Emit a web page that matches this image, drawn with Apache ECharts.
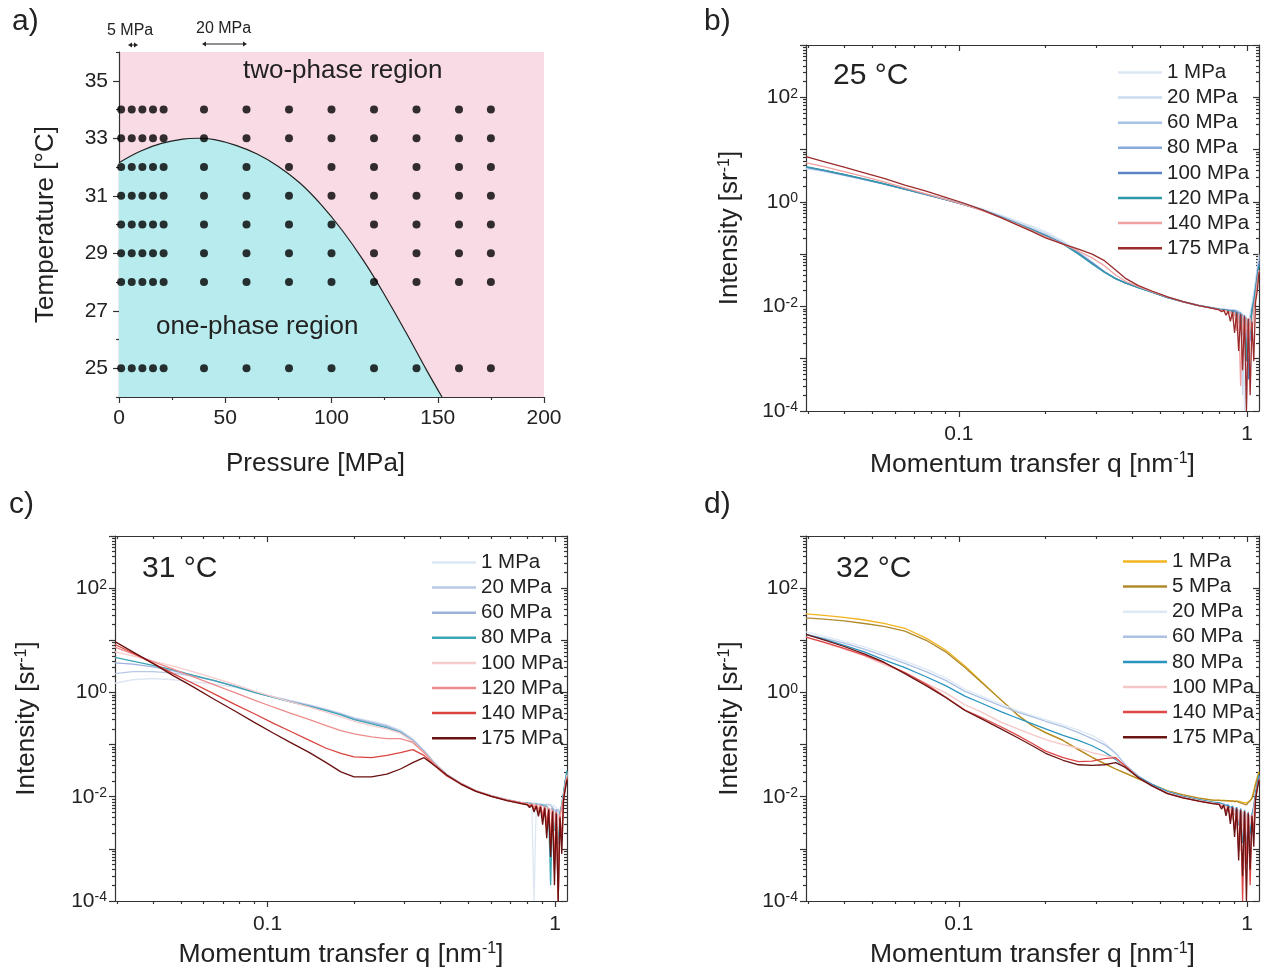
<!DOCTYPE html>
<html>
<head>
<meta charset="utf-8">
<script src="https://cdn.jsdelivr.net/npm/echarts@6/dist/echarts.min.js"></script>
<style>
  html, body { margin: 0; padding: 0; background: #fff; }
  #main { width: 1266px; height: 976px; }
</style>
</head>
<body>
<div id="main"></div>
<script>
// ---- panel a: phase diagram ----
var pressureCols = [1, 6, 11, 16, 21, 40, 60, 80, 100, 120, 140, 160, 175];
var temperatureRows = [25, 28, 29, 30, 31, 32, 33, 34];
var boundaryP = [0, 10, 20, 30, 37, 45, 55, 65, 75, 85, 95, 105, 115, 125, 135, 145, 152];
var boundaryT = [32.15, 32.55, 32.82, 32.97, 33.0, 32.95, 32.75, 32.45, 32.02, 31.45, 30.7, 29.8, 28.75, 27.55, 26.25, 24.9, 24.0];
var tempLabels = [25, 27, 29, 31, 33, 35];
var tempMinor = [24, 26, 28, 30, 32, 34, 36];

// ---- SAXS curves: q grid (nm^-1) ----
var qMain = [0.0295, 0.034, 0.04, 0.047, 0.055, 0.065, 0.077, 0.09, 0.105, 0.12, 0.14, 0.16, 0.18, 0.2, 0.23, 0.26, 0.29, 0.32, 0.35, 0.38, 0.42, 0.47, 0.53, 0.6, 0.68, 0.76];
var qTail = [0.8, 0.815, 0.83, 0.845, 0.86, 0.875, 0.89, 0.905, 0.92, 0.935, 0.95, 0.965, 0.98, 0.995, 1.01, 1.025, 1.04, 1.055, 1.07, 1.085, 1.1];
var qMajorTicks = [0.1, 1];
var qMinorTicks = [0.03, 0.04, 0.05, 0.06, 0.07, 0.08, 0.09, 0.2, 0.3, 0.4, 0.5, 0.6, 0.7, 0.8, 0.9];
var intensityDecades = [1e-4, 1e-3, 1e-2, 1e-1, 1, 10, 100, 1000];
var intensityLabels = [1e-4, 1e-2, 1, 100];

// 25 °C
var t25_p1   = [4.3, 3.8, 3.2, 2.65, 2.2, 1.78, 1.42, 1.14, 0.92, 0.75, 0.56, 0.43, 0.34, 0.27, 0.18, 0.115, 0.072, 0.047, 0.034, 0.028, 0.023, 0.019, 0.0152, 0.0125, 0.0107, 0.0096,
                0.0092, 0.009, 0.0088, 0.0089, 0.0087, 0.0086, 0.0085, 0.0086, 0.0084, 0.0082, 0.0075, 0.0062, 0.0001, 0.0045, 0.0012, 0.0064, 0.0098, 0.016, 0.028, 0.05, 0.09];
var t25_p20  = [4.4, 3.85, 3.2, 2.65, 2.2, 1.77, 1.4, 1.12, 0.9, 0.73, 0.54, 0.41, 0.32, 0.25, 0.17, 0.11, 0.07, 0.046, 0.034, 0.028, 0.023, 0.0188, 0.015, 0.0124, 0.0106, 0.0095,
                0.0091, 0.0089, 0.009, 0.0087, 0.0086, 0.0087, 0.0085, 0.0083, 0.0084, 0.0079, 0.0068, 0.0002, 0.005, 0.0001, 0.0035, 0.0071, 0.011, 0.018, 0.03, 0.055, 0.1];
var t25_p60  = [4.5, 3.9, 3.25, 2.65, 2.18, 1.74, 1.38, 1.1, 0.88, 0.71, 0.52, 0.39, 0.3, 0.235, 0.16, 0.105, 0.067, 0.045, 0.034, 0.028, 0.023, 0.0186, 0.0149, 0.0123, 0.0105, 0.0094,
                0.009, 0.0088, 0.0086, 0.0088, 0.0085, 0.0084, 0.0086, 0.0082, 0.0072, 0.008, 0.0055, 0.0064, 0.0018, 0.0058, 0.0007, 0.0048, 0.0095, 0.014, 0.024, 0.045, 0.08];
var t25_p80  = [4.6, 4.0, 3.3, 2.7, 2.2, 1.75, 1.38, 1.1, 0.88, 0.7, 0.51, 0.38, 0.29, 0.23, 0.16, 0.104, 0.066, 0.045, 0.034, 0.028, 0.023, 0.0185, 0.0148, 0.0122, 0.0104, 0.0093,
                0.0089, 0.0087, 0.0088, 0.0085, 0.0084, 0.0083, 0.0081, 0.0078, 0.0083, 0.0065, 0.0078, 0.0042, 0.0069, 0.0015, 0.0052, 0.0022, 0.0088, 0.013, 0.022, 0.04, 0.07];
var t25_p100 = [4.6, 4.0, 3.3, 2.7, 2.2, 1.75, 1.38, 1.1, 0.88, 0.7, 0.51, 0.38, 0.29, 0.23, 0.16, 0.105, 0.068, 0.046, 0.034, 0.028, 0.023, 0.0185, 0.0148, 0.0122, 0.0104, 0.0093,
                0.0088, 0.0086, 0.0085, 0.0087, 0.0083, 0.0082, 0.0079, 0.0084, 0.0061, 0.0077, 0.0035, 0.0071, 0.0026, 0.0061, 0.0004, 0.0055, 0.0079, 0.012, 0.02, 0.038, 0.065];
var t25_p120 = [4.7, 4.05, 3.35, 2.75, 2.22, 1.76, 1.39, 1.1, 0.88, 0.7, 0.51, 0.38, 0.29, 0.225, 0.155, 0.1, 0.065, 0.045, 0.034, 0.028, 0.023, 0.0185, 0.0148, 0.0122, 0.0104, 0.0093,
                0.0088, 0.0085, 0.0086, 0.0083, 0.0084, 0.008, 0.0083, 0.0068, 0.0079, 0.0049, 0.0074, 0.0028, 0.0066, 0.0009, 0.0058, 0.0031, 0.0086, 0.012, 0.021, 0.036, 0.06];
var t25_p140 = [5.6, 4.7, 3.8, 3.05, 2.4, 1.85, 1.42, 1.12, 0.88, 0.69, 0.5, 0.37, 0.28, 0.215, 0.155, 0.115, 0.085, 0.06, 0.04, 0.03, 0.024, 0.019, 0.015, 0.0122, 0.0104, 0.0092,
                0.0087, 0.0084, 0.0081, 0.0085, 0.0072, 0.0082, 0.0058, 0.0079, 0.0034, 0.0075, 0.0003, 0.0068, 0.0021, 0.0059, 0.0011, 0.0062, 0.0026, 0.0094, 0.015, 0.03, 0.05];
var t25_p175 = [7.3, 5.9, 4.6, 3.6, 2.8, 2.1, 1.6, 1.22, 0.93, 0.71, 0.5, 0.36, 0.27, 0.205, 0.155, 0.125, 0.1, 0.075, 0.05, 0.034, 0.025, 0.0195, 0.0152, 0.0123, 0.0104, 0.0092,
                0.0086, 0.0079, 0.0085, 0.0068, 0.0081, 0.0052, 0.0079, 0.0031, 0.0076, 0.0014, 0.0071, 0.0006, 0.0065, 0.0001, 0.0058, 0.0002, 0.0051, 0.0009, 0.012, 0.02, 0.045];

// 31 °C
var t31_p1   = [1.5, 1.75, 1.85, 1.75, 1.6, 1.45, 1.25, 1.02, 0.83, 0.7, 0.58, 0.48, 0.4, 0.33, 0.28, 0.24, 0.19, 0.13, 0.078, 0.046, 0.027, 0.0185, 0.0132, 0.0106, 0.0089, 0.0079,
                0.0076, 0.0075, 0.0074, 0.0001, 0.0073, 0.0074, 0.0072, 0.0073, 0.0071, 0.0072, 0.007, 0.0071, 0.0068, 0.0066, 0.0062, 0.0055, 0.0048, 0.0065, 0.011, 0.019, 0.028];
var t31_p20  = [2.3, 2.5, 2.5, 2.35, 2.05, 1.7, 1.32, 1.02, 0.82, 0.69, 0.57, 0.47, 0.39, 0.32, 0.27, 0.23, 0.18, 0.125, 0.076, 0.045, 0.027, 0.018, 0.013, 0.0105, 0.0088, 0.0078,
                0.0077, 0.0076, 0.0074, 0.0075, 0.0073, 0.0071, 0.0072, 0.007, 0.0069, 0.0071, 0.0066, 0.0068, 0.0061, 0.0065, 0.0052, 0.0058, 0.0045, 0.007, 0.012, 0.02, 0.03];
var t31_p60  = [3.7, 3.5, 3.1, 2.6, 2.1, 1.68, 1.3, 1.0, 0.8, 0.67, 0.55, 0.46, 0.38, 0.31, 0.26, 0.22, 0.175, 0.12, 0.074, 0.044, 0.026, 0.018, 0.013, 0.0104, 0.0087, 0.0077,
                0.0076, 0.0074, 0.0075, 0.0072, 0.0073, 0.007, 0.0071, 0.0068, 0.0069, 0.0064, 0.0067, 0.0055, 0.0063, 0.0041, 0.0058, 0.0034, 0.0052, 0.0068, 0.011, 0.018, 0.027];
var t31_p80  = [4.7, 4.0, 3.3, 2.7, 2.15, 1.7, 1.3, 1.0, 0.8, 0.66, 0.54, 0.45, 0.37, 0.3, 0.25, 0.21, 0.17, 0.115, 0.072, 0.043, 0.026, 0.018, 0.013, 0.0104, 0.0087, 0.0077,
                0.0075, 0.0073, 0.0074, 0.0071, 0.0072, 0.0069, 0.0067, 0.007, 0.0062, 0.0066, 0.0045, 0.0002, 0.0058, 0.0022, 0.0052, 0.0012, 0.0047, 0.0072, 0.012, 0.021, 0.032];
var t31_p100 = [6.0, 5.0, 4.0, 3.2, 2.5, 1.9, 1.42, 1.06, 0.82, 0.66, 0.52, 0.42, 0.34, 0.28, 0.23, 0.2, 0.165, 0.115, 0.072, 0.043, 0.026, 0.018, 0.013, 0.0104, 0.0087, 0.0077,
                0.0074, 0.0072, 0.0071, 0.0073, 0.0068, 0.007, 0.0063, 0.0067, 0.0055, 0.0064, 0.0038, 0.0059, 0.0026, 0.0054, 0.0009, 0.0048, 0.0031, 0.0066, 0.01, 0.017, 0.026];
var t31_p120 = [7.4, 5.5, 3.9, 2.8, 2.0, 1.41, 0.99, 0.71, 0.52, 0.4, 0.3, 0.23, 0.185, 0.16, 0.14, 0.13, 0.13, 0.11, 0.07, 0.043, 0.026, 0.018, 0.013, 0.0104, 0.0087, 0.0077,
                0.0073, 0.0069, 0.0072, 0.0064, 0.007, 0.0058, 0.0068, 0.0046, 0.0065, 0.0033, 0.0061, 0.0018, 0.0057, 0.0006, 0.0051, 0.0003, 0.0044, 0.0061, 0.0095, 0.016, 0.024];
var t31_p140 = [8.3, 5.7, 3.6, 2.3, 1.5, 0.95, 0.59, 0.39, 0.255, 0.18, 0.12, 0.085, 0.068, 0.058, 0.056, 0.062, 0.07, 0.08, 0.062, 0.04, 0.025, 0.0175, 0.0128, 0.0102, 0.0085, 0.0075,
                0.0071, 0.0066, 0.007, 0.0057, 0.0068, 0.0049, 0.0065, 0.0038, 0.0062, 0.0025, 0.0058, 0.0011, 0.0054, 0.0004, 0.0049, 0.0001, 0.0042, 0.0015, 0.009, 0.015, 0.022];
var t31_p175 = [9.4, 6.0, 3.6, 2.1, 1.29, 0.75, 0.44, 0.267, 0.165, 0.11, 0.07, 0.045, 0.03, 0.024, 0.024, 0.027, 0.034, 0.045, 0.056, 0.04, 0.026, 0.0175, 0.0127, 0.0101, 0.0084, 0.0074,
                0.007, 0.0062, 0.0069, 0.0051, 0.0066, 0.0042, 0.0063, 0.0029, 0.006, 0.0016, 0.0056, 0.0007, 0.0052, 0.0002, 0.0047, 0.0001, 0.004, 0.0008, 0.0085, 0.014, 0.021];

// 32 °C
var t32_p1   = [32, 30, 27.5, 24.5, 21, 17, 11, 6.5, 3.2, 1.6, 0.72, 0.37, 0.23, 0.17, 0.12, 0.08, 0.057, 0.043, 0.034, 0.028, 0.022, 0.017, 0.013, 0.0108, 0.0094, 0.0086,
                0.0086, 0.0085, 0.0084, 0.0085, 0.0083, 0.0084, 0.0082, 0.0083, 0.0081, 0.0082, 0.008, 0.0078, 0.0081, 0.0076, 0.0079, 0.0083, 0.0098, 0.013, 0.018, 0.024, 0.03];
var t32_p5   = [27, 25.5, 23.5, 21, 18.5, 15, 10, 6.0, 3.0, 1.55, 0.72, 0.37, 0.23, 0.17, 0.12, 0.08, 0.057, 0.043, 0.034, 0.028, 0.022, 0.017, 0.013, 0.0108, 0.0094, 0.0086,
                0.0085, 0.0084, 0.0085, 0.0083, 0.0084, 0.0082, 0.0083, 0.008, 0.0082, 0.0079, 0.0081, 0.0074, 0.0079, 0.007, 0.0077, 0.0079, 0.0092, 0.012, 0.017, 0.022, 0.028];
var t32_p20  = [14.5, 12, 9.5, 7.5, 5.6, 4.0, 2.8, 1.9, 1.15, 0.85, 0.6, 0.45, 0.36, 0.3, 0.24, 0.19, 0.15, 0.11, 0.07, 0.04, 0.025, 0.017, 0.0125, 0.0102, 0.0088, 0.0079,
                0.0077, 0.0074, 0.0071, 0.0069, 0.0055, 0.0065, 0.0042, 0.006, 0.0032, 0.0057, 0.0021, 0.0052, 0.0014, 0.0049, 0.0008, 0.0045, 0.0038, 0.0063, 0.01, 0.016, 0.024];
var t32_p60  = [13, 11, 8.8, 6.8, 5.0, 3.6, 2.5, 1.7, 1.05, 0.78, 0.55, 0.42, 0.34, 0.28, 0.22, 0.17, 0.13, 0.1, 0.068, 0.04, 0.025, 0.017, 0.0125, 0.0102, 0.0088, 0.0079,
                0.0077, 0.0075, 0.0072, 0.007, 0.0068, 0.0063, 0.0066, 0.0052, 0.0063, 0.0038, 0.006, 0.0025, 0.0056, 0.0011, 0.0052, 0.0005, 0.0047, 0.0064, 0.011, 0.017, 0.025];
var t32_p80  = [13, 10.5, 8.0, 6.0, 4.2, 3.0, 2.0, 1.35, 0.85, 0.62, 0.43, 0.32, 0.25, 0.2, 0.15, 0.12, 0.095, 0.072, 0.052, 0.035, 0.024, 0.017, 0.0125, 0.0102, 0.0088, 0.0079,
                0.0076, 0.0073, 0.0072, 0.0067, 0.007, 0.0058, 0.0066, 0.0045, 0.0063, 0.0028, 0.0059, 0.0013, 0.0055, 0.0006, 0.005, 0.0019, 0.0045, 0.0067, 0.012, 0.018, 0.026];
var t32_p100 = [11.5, 9.0, 6.8, 5.0, 3.4, 2.4, 1.5, 0.98, 0.58, 0.42, 0.27, 0.2, 0.155, 0.125, 0.1, 0.085, 0.07, 0.062, 0.056, 0.035, 0.023, 0.016, 0.012, 0.0098, 0.0085, 0.0076,
                0.0073, 0.007, 0.0067, 0.0065, 0.0052, 0.0062, 0.0036, 0.0059, 0.0024, 0.0055, 0.0009, 0.0051, 0.0004, 0.0047, 0.0016, 0.0043, 0.0027, 0.006, 0.0095, 0.015, 0.022];
var t32_p140 = [11.5, 9.2, 7.0, 5.2, 3.7, 2.4, 1.45, 0.82, 0.46, 0.33, 0.22, 0.15, 0.105, 0.075, 0.056, 0.047, 0.048, 0.054, 0.056, 0.038, 0.023, 0.016, 0.0115, 0.0095, 0.0082, 0.0074,
                0.0072, 0.0064, 0.0069, 0.0051, 0.0066, 0.0038, 0.0063, 0.0022, 0.006, 0.0009, 0.0056, 0.0001, 0.0053, 0.0005, 0.0049, 0.0002, 0.0044, 0.0021, 0.0092, 0.015, 0.022];
var t32_p175 = [13, 10.2, 7.6, 5.5, 3.8, 2.3, 1.35, 0.8, 0.45, 0.31, 0.2, 0.135, 0.095, 0.068, 0.05, 0.041, 0.04, 0.041, 0.045, 0.036, 0.023, 0.016, 0.0115, 0.0095, 0.0082, 0.0074,
                0.0071, 0.0058, 0.0068, 0.0043, 0.0065, 0.003, 0.0062, 0.0017, 0.0059, 0.0006, 0.0055, 0.0003, 0.0052, 0.0001, 0.0047, 0.0004, 0.0042, 0.0011, 0.0088, 0.014, 0.021];

var panelB = { names: ['1 MPa', '20 MPa', '60 MPa', '80 MPa', '100 MPa', '120 MPa', '140 MPa', '175 MPa'],
  values: [t25_p1, t25_p20, t25_p60, t25_p80, t25_p100, t25_p120, t25_p140, t25_p175],
  colors: ['#dbe7f4', '#c9dbef', '#a6c2e6', '#86aadb', '#5a84c3', '#2f98a8', '#efa0a0', '#9c2c2c'] };
var panelC = { names: ['1 MPa', '20 MPa', '60 MPa', '80 MPa', '100 MPa', '120 MPa', '140 MPa', '175 MPa'],
  values: [t31_p1, t31_p20, t31_p60, t31_p80, t31_p100, t31_p120, t31_p140, t31_p175],
  colors: ['#dde7f3', '#b7c9e4', '#9db1da', '#3ca5b4', '#f7cccc', '#ee8c8c', '#d9443f', '#6a1010'] };
var panelD = { names: ['1 MPa', '5 MPa', '20 MPa', '60 MPa', '80 MPa', '100 MPa', '140 MPa', '175 MPa'],
  values: [t32_p1, t32_p5, t32_p20, t32_p60, t32_p80, t32_p100, t32_p140, t32_p175],
  colors: ['#f2b420', '#b18a2e', '#dde9f5', '#abc0e2', '#2a95be', '#f5c6c6', '#e04646', '#6b1414'] };

var FONT = '"Liberation Sans", Arial, sans-serif';
var INK = '#222';
var qAll = qMain.concat(qTail);

function pairs(xs, ys) {
  return xs.map(function (x, i) { return [x, ys[i]]; });
}

var chart = echarts.init(document.getElementById('main'));

var grids = [
  { left: 119, top: 52, width: 425, height: 345, show: true, backgroundColor: '#f8dbe4', borderWidth: 0 },
  { left: 806, top: 45, width: 453, height: 366 },
  { left: 115, top: 536, width: 452, height: 365 },
  { left: 806, top: 536, width: 453, height: 365 }
];

var lineStyleAxis = { color: '#333', width: 1.2 };
var xAxes = [];
var yAxes = [];

// panel a axes
xAxes.push({
  gridIndex: 0, type: 'value', min: 0, max: 200, interval: 50,
  axisLine: { onZero: false, lineStyle: lineStyleAxis },
  axisTick: { length: 6, lineStyle: lineStyleAxis },
  minorTick: { show: true, splitNumber: 2, length: 3, lineStyle: lineStyleAxis },
  splitLine: { show: false },
  axisLabel: { fontSize: 21, color: INK, fontFamily: FONT, margin: 11 },
  name: 'Pressure [MPa]', nameLocation: 'middle', nameGap: 54,
  nameTextStyle: { fontSize: 26, color: INK, fontFamily: FONT, padding: [0, 32, 0, 0] }
});
yAxes.push({
  gridIndex: 0, type: 'value', min: 24, max: 36,
  axisLine: { onZero: false, lineStyle: lineStyleAxis },
  axisTick: { length: 6, customValues: tempLabels, lineStyle: lineStyleAxis },
  splitLine: { show: false },
  axisLabel: { customValues: tempLabels, fontSize: 21, color: INK, fontFamily: FONT, margin: 11 },
  name: 'Temperature [°C]', nameLocation: 'middle', nameGap: 60,
  nameTextStyle: { fontSize: 26, color: INK, fontFamily: FONT }
});
yAxes.push({
  gridIndex: 0, type: 'value', min: 24, max: 36, position: 'left',
  axisLine: { show: false },
  axisTick: { length: 3, customValues: tempMinor, lineStyle: lineStyleAxis },
  axisLabel: { show: false }, splitLine: { show: false }
});

// log panels: main + minor ticks on bottom/left, inward ticks on top/right
function addLogAxes(g, yNameGap) {
  var xBase = { gridIndex: g, type: 'log', logBase: 10, min: 0.0295, max: 1.1, splitLine: { show: false } };
  var yBase = { gridIndex: g, type: 'log', logBase: 10, min: 1e-4, max: 1e3, splitLine: { show: false } };
  var yMinor = [];
  intensityDecades.slice(0, -1).forEach(function (d) {
    for (var k = 2; k <= 9; k++) yMinor.push(d * k);
  });
  xAxes.push(Object.assign({}, xBase, {
    position: 'bottom',
    axisLine: { onZero: false, lineStyle: lineStyleAxis },
    axisTick: { length: 6, customValues: qMajorTicks, lineStyle: lineStyleAxis },
    axisLabel: { customValues: qMajorTicks, fontSize: 21, color: INK, fontFamily: FONT, margin: 13,
      formatter: function (v) { return v < 0.5 ? '0.1' : '1'; } },
    name: 'Momentum transfer q [nm{s|-1}]', nameLocation: 'middle', nameGap: 40,
    nameTextStyle: { fontSize: 26.5, color: INK, fontFamily: FONT,
      rich: { s: { fontSize: 16, verticalAlign: 'top', fontFamily: FONT, color: INK } } }
  }));
  xAxes.push(Object.assign({}, xBase, {
    position: 'bottom', axisLine: { show: false }, axisLabel: { show: false },
    axisTick: { length: 3, customValues: qMinorTicks, lineStyle: lineStyleAxis }
  }));
  xAxes.push(Object.assign({}, xBase, {
    position: 'top', axisLine: { onZero: false, lineStyle: lineStyleAxis }, axisLabel: { show: false },
    axisTick: { inside: true, length: 6, customValues: qMajorTicks, lineStyle: lineStyleAxis }
  }));
  xAxes.push(Object.assign({}, xBase, {
    position: 'top', axisLine: { show: false }, axisLabel: { show: false },
    axisTick: { inside: true, length: 3, customValues: qMinorTicks, lineStyle: lineStyleAxis }
  }));

  yAxes.push(Object.assign({}, yBase, {
    position: 'left',
    axisLine: { onZero: false, lineStyle: lineStyleAxis },
    axisTick: { length: 6, customValues: intensityDecades, lineStyle: lineStyleAxis },
    axisLabel: { customValues: intensityLabels, margin: 8,
      formatter: function (v) { return '{b|10}{s|' + Math.round(Math.log10(v)) + '}'; },
      rich: { b: { fontSize: 21, color: INK, fontFamily: FONT },
              s: { fontSize: 14, color: INK, fontFamily: FONT, verticalAlign: 'top' } } },
    name: 'Intensity [sr{s|-1}]', nameLocation: 'middle', nameGap: yNameGap,
    nameTextStyle: { fontSize: 26, color: INK, fontFamily: FONT,
      rich: { s: { fontSize: 16, verticalAlign: 'top', fontFamily: FONT, color: INK } } }
  }));
  yAxes.push(Object.assign({}, yBase, {
    position: 'left', axisLine: { show: false }, axisLabel: { show: false },
    axisTick: { length: 3, customValues: yMinor, lineStyle: lineStyleAxis }
  }));
  yAxes.push(Object.assign({}, yBase, {
    position: 'right', axisLine: { onZero: false, lineStyle: lineStyleAxis }, axisLabel: { show: false },
    axisTick: { inside: true, length: 6, customValues: intensityDecades, lineStyle: lineStyleAxis }
  }));
  yAxes.push(Object.assign({}, yBase, {
    position: 'right', axisLine: { show: false }, axisLabel: { show: false },
    axisTick: { inside: true, length: 3, customValues: yMinor, lineStyle: lineStyleAxis }
  }));
}
addLogAxes(1, 63);
addLogAxes(2, 75);
addLogAxes(3, 63);

var series = [];

// phase boundary with one-phase fill
series.push({
  type: 'line', xAxisIndex: 0, yAxisIndex: 0, smooth: 0.4, symbol: 'none', z: 2,
  data: pairs(boundaryP, boundaryT),
  lineStyle: { color: '#222', width: 1.2 },
  areaStyle: { color: '#b8ebee', opacity: 1, origin: 'start' }
});
var points = [];
temperatureRows.forEach(function (t) {
  pressureCols.forEach(function (p) { points.push([p, t]); });
});
series.push({
  type: 'scatter', xAxisIndex: 0, yAxisIndex: 0, z: 5, symbolSize: 8,
  itemStyle: { color: '#000' }, data: points
});

var legends = [];
function addPanelSeries(panel, key, g, legendPos) {
  var xi = 1 + (g - 1) * 4;
  var yi = 2 + (g - 1) * 4;
  var names = [];
  panel.names.forEach(function (n, i) {
    var sName = key + '|' + n;
    names.push(sName);
    series.push({
      name: sName, type: 'line', xAxisIndex: xi, yAxisIndex: yi,
      symbol: 'none', showSymbol: false, smooth: false, z: 3 + i * 0.01,
      data: pairs(qAll, panel.values[i]),
      lineStyle: { color: panel.colors[i], width: 1.3 },
      itemStyle: { color: panel.colors[i] }
    });
  });
  legends.push({
    data: names.map(function (n) { return { name: n, icon: 'rect' }; }),
    orient: 'vertical', left: legendPos[0], top: legendPos[1],
    itemWidth: 44, itemHeight: 2.5, itemGap: 4.1, selectedMode: false,
    formatter: function (name) { return name.split('|')[1]; },
    textStyle: { fontSize: 20.5, color: INK, fontFamily: FONT, lineHeight: 20 }
  });
}
addPanelSeries(panelB, 'b', 1, [1113, 57]);
addPanelSeries(panelC, 'c', 2, [427, 547]);
addPanelSeries(panelD, 'd', 3, [1118, 546]);

function label(text, x, y, size) {
  return { type: 'text', left: x, top: y, z: 100,
    style: { text: text, fontSize: size, fontFamily: FONT, fill: INK } };
}
function doubleArrow(x1, x2, y) {
  return { type: 'group', z: 100, children: [
    { type: 'line', shape: { x1: x1 + 2, y1: y, x2: x2 - 2, y2: y }, style: { stroke: INK, lineWidth: 1 } },
    { type: 'polygon', shape: { points: [[x1, y], [x1 + 4, y - 2.5], [x1 + 4, y + 2.5]] }, style: { fill: INK } },
    { type: 'polygon', shape: { points: [[x2, y], [x2 - 4, y - 2.5], [x2 - 4, y + 2.5]] }, style: { fill: INK } }
  ] };
}

var graphics = [
  label('a)', 12, 7, 30),
  label('b)', 704, 7, 30),
  label('c)', 9, 490, 30),
  label('d)', 704, 490, 30),
  label('25 °C', 833, 61, 30),
  label('31 °C', 142, 554, 30),
  label('32 °C', 836, 554, 30),
  label('two-phase region', 243, 58, 26),
  label('one-phase region', 156, 314, 26),
  label('5 MPa', 107, 23, 16),
  label('20 MPa', 196, 21, 16),
  doubleArrow(128, 138, 45),
  doubleArrow(202, 247, 44)
];

var option = {
  animation: false,
  backgroundColor: '#fff',
  textStyle: { fontFamily: FONT },
  grid: grids,
  xAxis: xAxes,
  yAxis: yAxes,
  legend: legends,
  series: series,
  graphic: graphics
};
chart.setOption(option);
</script>
</body>
</html>
